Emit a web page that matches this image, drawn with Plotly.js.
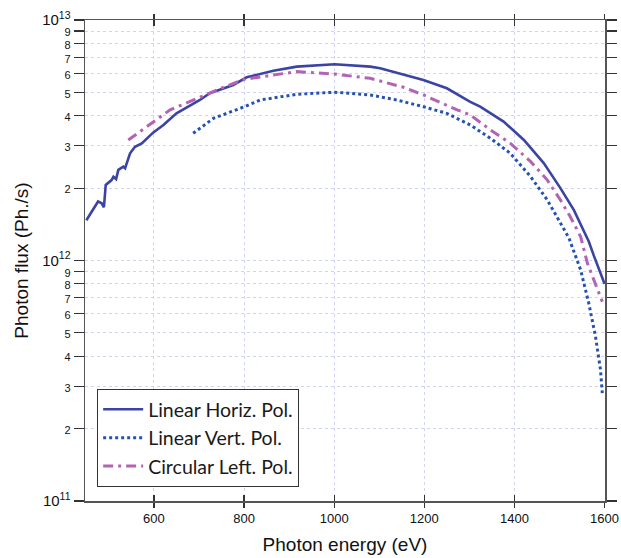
<!DOCTYPE html>
<html>
<head>
<meta charset="utf-8">
<script src="https://cdn.plot.ly/plotly-3.0.1.min.js"></script>
<style>html,body{margin:0;padding:0;background:#fff;}#chart{width:621px;height:558px;}</style>
</head>
<body>
<div id="chart"></div>
<script>
// Linear Horizontal polarisation
const horizE = [450, 476, 484, 489, 493, 506, 510, 516, 521, 528, 532, 536, 547, 558, 573, 598, 621, 650, 702, 724, 776, 806, 865, 917, 1001, 1080, 1102, 1198, 1250, 1302, 1324, 1376, 1421, 1465, 1502, 1532, 1554, 1565, 1576, 1588, 1600];
const horizF = [1.47e12, 1.76e12, 1.73e12, 1.665e12, 2.06e12, 2.16e12, 2.23e12, 2.18e12, 2.38e12, 2.42e12, 2.455e12, 2.42e12, 2.79e12, 2.97e12, 3.07e12, 3.40e12, 3.66e12, 4.09e12, 4.65e12, 4.96e12, 5.37e12, 5.78e12, 6.15e12, 6.40e12, 6.55e12, 6.40e12, 6.30e12, 5.63e12, 5.20e12, 4.57e12, 4.36e12, 3.78e12, 3.17e12, 2.54e12, 2.00e12, 1.62e12, 1.34e12, 1.20e12, 1.05e12, 9.2e11, 8.0e11];
// Linear Vertical polarisation
const vertE = [687, 732, 801, 836, 917, 1001, 1080, 1139, 1198, 1250, 1302, 1347, 1391, 1436, 1473, 1502, 1521, 1547, 1565, 1580, 1591, 1595];
const vertF = [3.38e12, 3.90e12, 4.36e12, 4.65e12, 4.91e12, 5.01e12, 4.88e12, 4.65e12, 4.36e12, 4.09e12, 3.66e12, 3.22e12, 2.79e12, 2.23e12, 1.785e12, 1.43e12, 1.24e12, 9.13e11, 6.64e11, 4.82e11, 3.51e11, 2.81e11];
// Circular Left polarisation
const circE = [543, 606, 636, 705, 754, 801, 865, 917, 1001, 1080, 1154, 1198, 1273, 1302, 1347, 1391, 1436, 1473, 1502, 1524, 1547, 1562, 1595];
const circF = [3.17e12, 3.84e12, 4.23e12, 4.80e12, 5.25e12, 5.67e12, 5.90e12, 6.10e12, 5.96e12, 5.72e12, 5.25e12, 4.88e12, 4.23e12, 4.03e12, 3.49e12, 3.07e12, 2.58e12, 2.16e12, 1.785e12, 1.52e12, 1.256e12, 9.73e11, 6.74e11];
const seriesNames = ['Linear Horiz. Pol.', 'Linear Vert. Pol.', 'Circular Left. Pol.'];
const xTicks = [600, 800, 1000, 1200, 1400, 1600];
const yDecades = [11, 12, 13];
const yDigits = [2, 3, 4, 5, 6, 7, 8, 9];

// y tick values / labels built from the decades and digits
const yTickVals = [], yTickText = [];
yDecades.forEach((d, i) => {
  yTickVals.push(Math.pow(10, d));
  yTickText.push('10<sup>' + d + '</sup>');
  if (i < yDecades.length - 1) {
    yDigits.forEach(m => {
      yTickVals.push(m * Math.pow(10, d));
      yTickText.push('<span style="font-size:11px">' + m + '</span>');
    });
  }
});

const traces = [
  {x: horizE, y: horizF, name: seriesNames[0], mode: 'lines', line: {color: '#3b44a2', width: 2.6}},
  {x: vertE, y: vertF, name: seriesNames[1], mode: 'lines', line: {color: '#2452b2', width: 3, dash: 'dot'}},
  {x: circE, y: circF, name: seriesNames[2], mode: 'lines', line: {color: '#b463b4', width: 3, dash: '10px,5px,3px,5px'}},
  {x: [xTicks[0]], y: [1e12], xaxis: 'x2', yaxis: 'y', mode: 'markers', marker: {opacity: 0}, showlegend: false, hoverinfo: 'skip'}
];

const gridC = '#d2d2f2';
const layout = {
  width: 621, height: 558,
  margin: {l: 85, r: 16, t: 20, b: 57},
  paper_bgcolor: '#fff', plot_bgcolor: '#fff',
  font: {family: 'Liberation Sans, Arial, sans-serif', color: '#111'},
  showlegend: true,
  legend: {x: 0.023, y: 0.233, xanchor: 'left', yanchor: 'top', bgcolor: '#fff', bordercolor: '#333', borderwidth: 1.2,
           font: {family: 'Lato, sans-serif', size: 19.5, color: '#1a1a1a'}, tracegroupgap: 0, itemwidth: 40},
  xaxis: {
    range: [447, 1601], tickvals: xTicks, ticktext: xTicks.map(String),
    ticks: 'outside', ticklen: 5, tickwidth: 1.2, tickcolor: '#333', mirror: 'ticks',
    showline: true, linecolor: '#555', linewidth: 1.5,
    showgrid: true, gridcolor: gridC, griddash: 'dot', gridwidth: 1, zeroline: false,
    tickfont: {size: 13, color: '#111'},
    title: {text: 'Photon energy (eV)', font: {size: 19, color: '#111'}, standoff: 12}
  },
  xaxis2: {
    range: [447, 1601], overlaying: 'x', tickvals: xTicks, showticklabels: false,
    ticks: 'inside', ticklen: 6, tickwidth: 1.2, tickcolor: '#333', mirror: 'ticks',
    showline: false, showgrid: false, zeroline: false
  },
  yaxis: {
    type: 'log', range: [11, 13], tickvals: yTickVals, ticktext: yTickText,
    ticks: 'outside', ticklen: 10, tickwidth: 1.2, tickcolor: '#333', mirror: 'ticks',
    showline: true, linecolor: '#555', linewidth: 1.5,
    showgrid: true, gridcolor: gridC, griddash: 'dot', gridwidth: 1, zeroline: false,
    tickfont: {size: 15, color: '#111'},
    title: {text: 'Photon flux (Ph./s)', font: {size: 19, color: '#111'}, standoff: 8}
  }
};

Plotly.newPlot('chart', traces, layout, {staticPlot: true, displayModeBar: false});
</script>
</body>
</html>
